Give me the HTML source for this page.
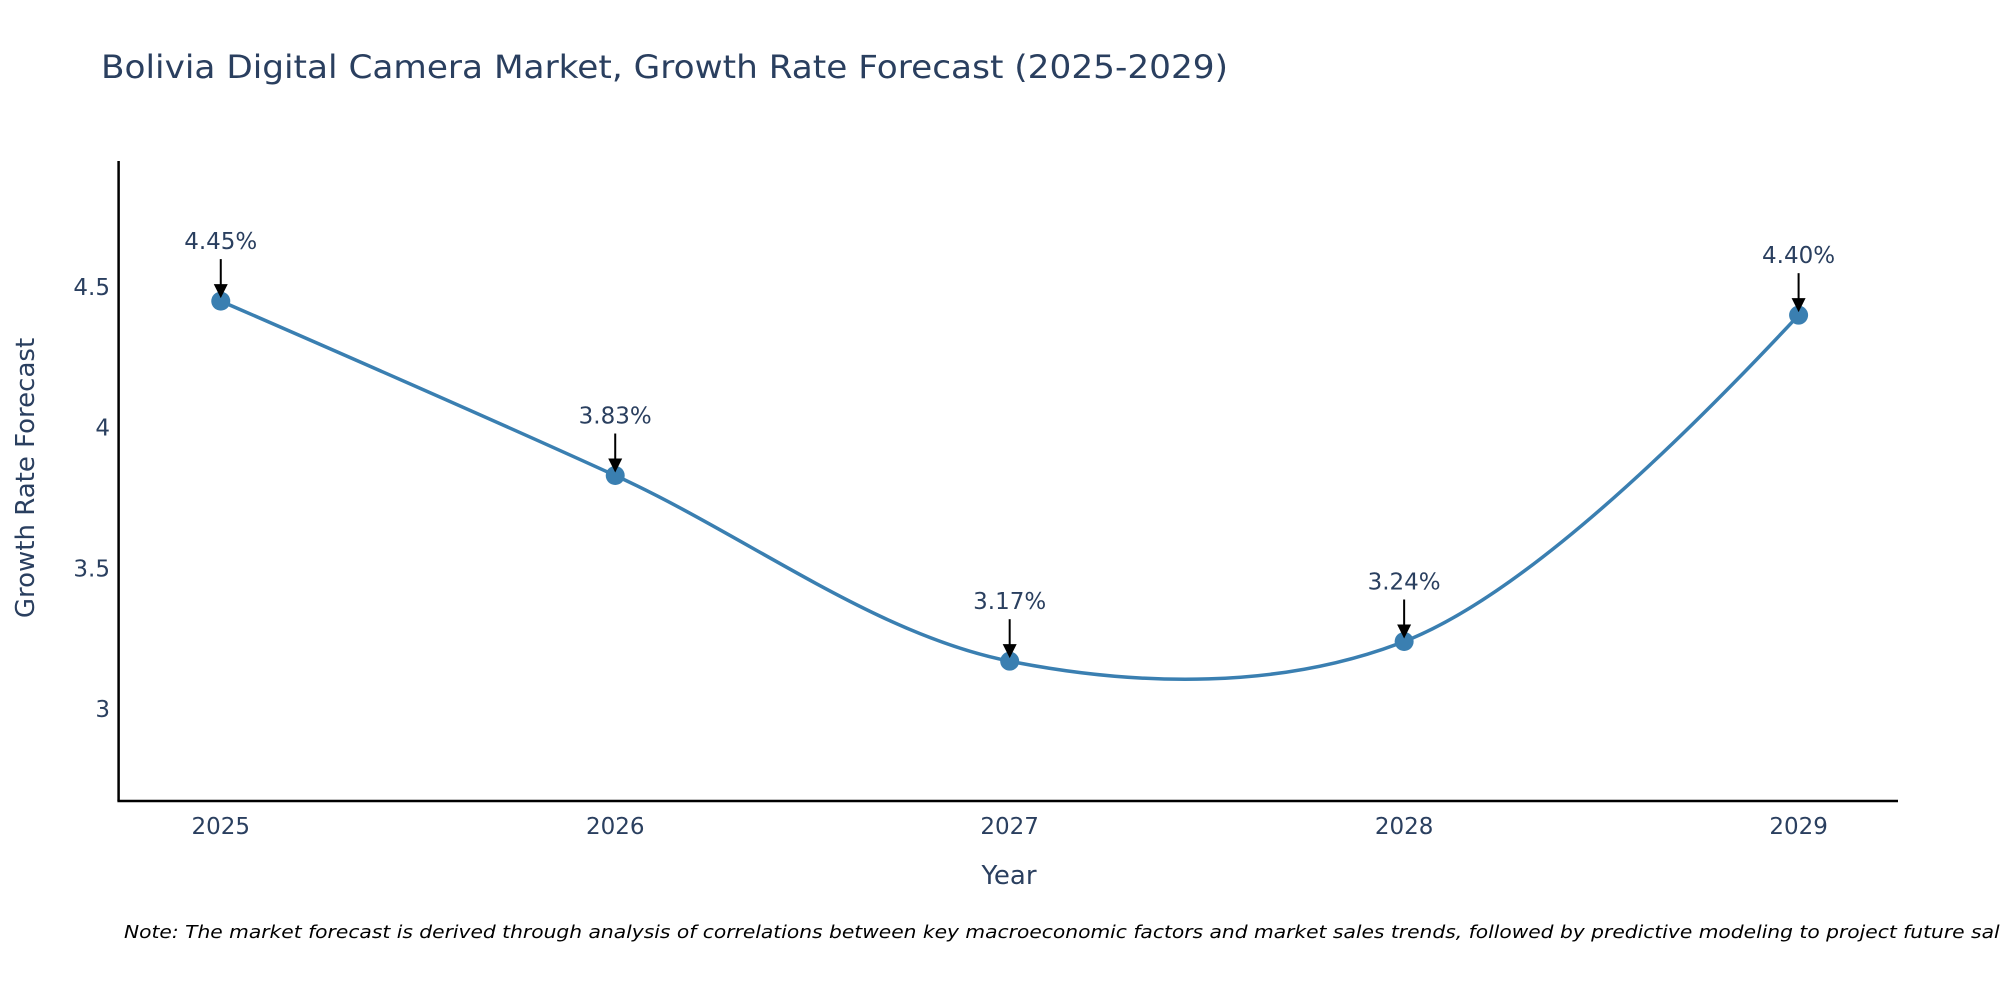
<!DOCTYPE html>
<html><head><meta charset="utf-8"><style>
body{margin:0;background:#fff;}
svg{display:block;font-family:"DejaVu Sans","Liberation Sans",sans-serif;}
</style></head><body>
<svg id="chart" width="2000" height="1000" viewBox="0 0 2000 1000">
<text x="101" y="78" font-size="32" fill="#2a3f5f" textLength="1127" lengthAdjust="spacingAndGlyphs">Bolivia Digital Camera Market, Growth Rate Forecast (2025-2029)</text>
<g id="ygrid"></g>
<path id="line" fill="none" stroke="#3a7fb1" stroke-width="3.5"></path>
<g id="marks"></g>
<line x1="118.6" y1="161" x2="118.6" y2="801" stroke="#000" stroke-width="2.5"/>
<line x1="117.4" y1="801" x2="1898" y2="801" stroke="#000" stroke-width="2.5"/>
<text x="1009" y="884" font-size="26" fill="#2a3f5f" text-anchor="middle">Year</text>
<text transform="translate(34,478) rotate(-90)" font-size="26" fill="#2a3f5f" text-anchor="middle">Growth Rate Forecast</text>
<text x="124" y="938" font-size="18" font-style="italic" fill="#000" textLength="1905" lengthAdjust="spacingAndGlyphs">Note: The market forecast is derived through analysis of correlations between key macroeconomic factors and market sales trends, followed by predictive modeling to project future sales.</text>
</svg>
<script>
const categories = [2025, 2026, 2027, 2028, 2029];
const values = [4.45, 3.83, 3.17, 3.24, 4.40];
const labels = ["4.45%", "3.83%", "3.17%", "3.24%", "4.40%"];
const yTicks = [3, 3.5, 4, 4.5];
const yTickLabels = ["3", "3.5", "4", "4.5"];

const NS = "http://www.w3.org/2000/svg";
const svg = document.getElementById('chart');
const xs = v => 118.6 + (v - 2024.741) / (2029.252 - 2024.741) * (1898 - 118.6);
const ys = v => 801 - (v - 2.673) / (4.948 - 2.673) * (801 - 161);
function mk(tag, attrs, parent, txt) {
  const e = document.createElementNS(NS, tag);
  for (const k in attrs) e.setAttribute(k, attrs[k]);
  if (txt !== undefined) e.textContent = txt;
  (parent || svg).appendChild(e);
  return e;
}
const ygrid = document.getElementById('ygrid');
yTicks.forEach((t, i) => {
  const e = mk('text', {x: 110, y: ys(t) + 8, 'font-size': 23, fill: '#2a3f5f', 'text-anchor': 'end'}, ygrid, yTickLabels[i]);
  
  
});
categories.forEach(c => {
  const e = mk('text', {x: xs(c), y: 834, 'font-size': 23, fill: '#2a3f5f', 'text-anchor': 'middle'}, ygrid, String(c));
  
  
});
const pts = categories.map((c, i) => [xs(c), ys(values[i])]);
function tangent(p, t, n, s) {
  const d1x = p[0]-t[0], d1y = p[1]-t[1], d2x = n[0]-t[0], d2y = n[1]-t[1];
  const d1a = Math.pow(d1x*d1x+d1y*d1y, 0.25), d2a = Math.pow(d2x*d2x+d2y*d2y, 0.25);
  const numx = (d2a*d2a*d1x - d1a*d1a*d2x)*s, numy = (d2a*d2a*d1y - d1a*d1a*d2y)*s;
  const den1 = 3*d2a*(d1a+d2a), den2 = 3*d1a*(d1a+d2a);
  return [[t[0]+numx/den1, t[1]+numy/den1], [t[0]-numx/den2, t[1]-numy/den2]];
}
const tg = [];
for (let i = 1; i < pts.length - 1; i++) tg.push(tangent(pts[i-1], pts[i], pts[i+1], 1));
let d = 'M' + pts[0] + 'Q' + tg[0][0] + ' ' + pts[1];
for (let i = 2; i < pts.length - 1; i++) d += 'C' + tg[i-2][1] + ' ' + tg[i-1][0] + ' ' + pts[i];
d += 'Q' + tg[pts.length-3][1] + ' ' + pts[pts.length-1];
document.getElementById('line').setAttribute('d', d);
const marks = document.getElementById('marks');
pts.forEach((p, i) => {
  const c = mk('circle', {cx: p[0], cy: p[1], r: 9.5, fill: '#3a7fb1'}, marks);
  
  
  const a = mk('line', {x1: p[0], y1: p[1]-42, x2: p[0], y2: p[1]-14, stroke: '#000', 'stroke-width': 2}, marks);
  
  
  const h = mk('path', {d: `M${p[0]-7},${p[1]-17}L${p[0]+7},${p[1]-17}L${p[0]},${p[1]-3}Z`, fill: '#000'}, marks);
  
  
  const t = mk('text', {x: p[0], y: p[1]-52, 'font-size': 23, fill: '#2a3f5f', 'text-anchor': 'middle'}, marks, labels[i]);
  
  
});
</script>
</body></html>
